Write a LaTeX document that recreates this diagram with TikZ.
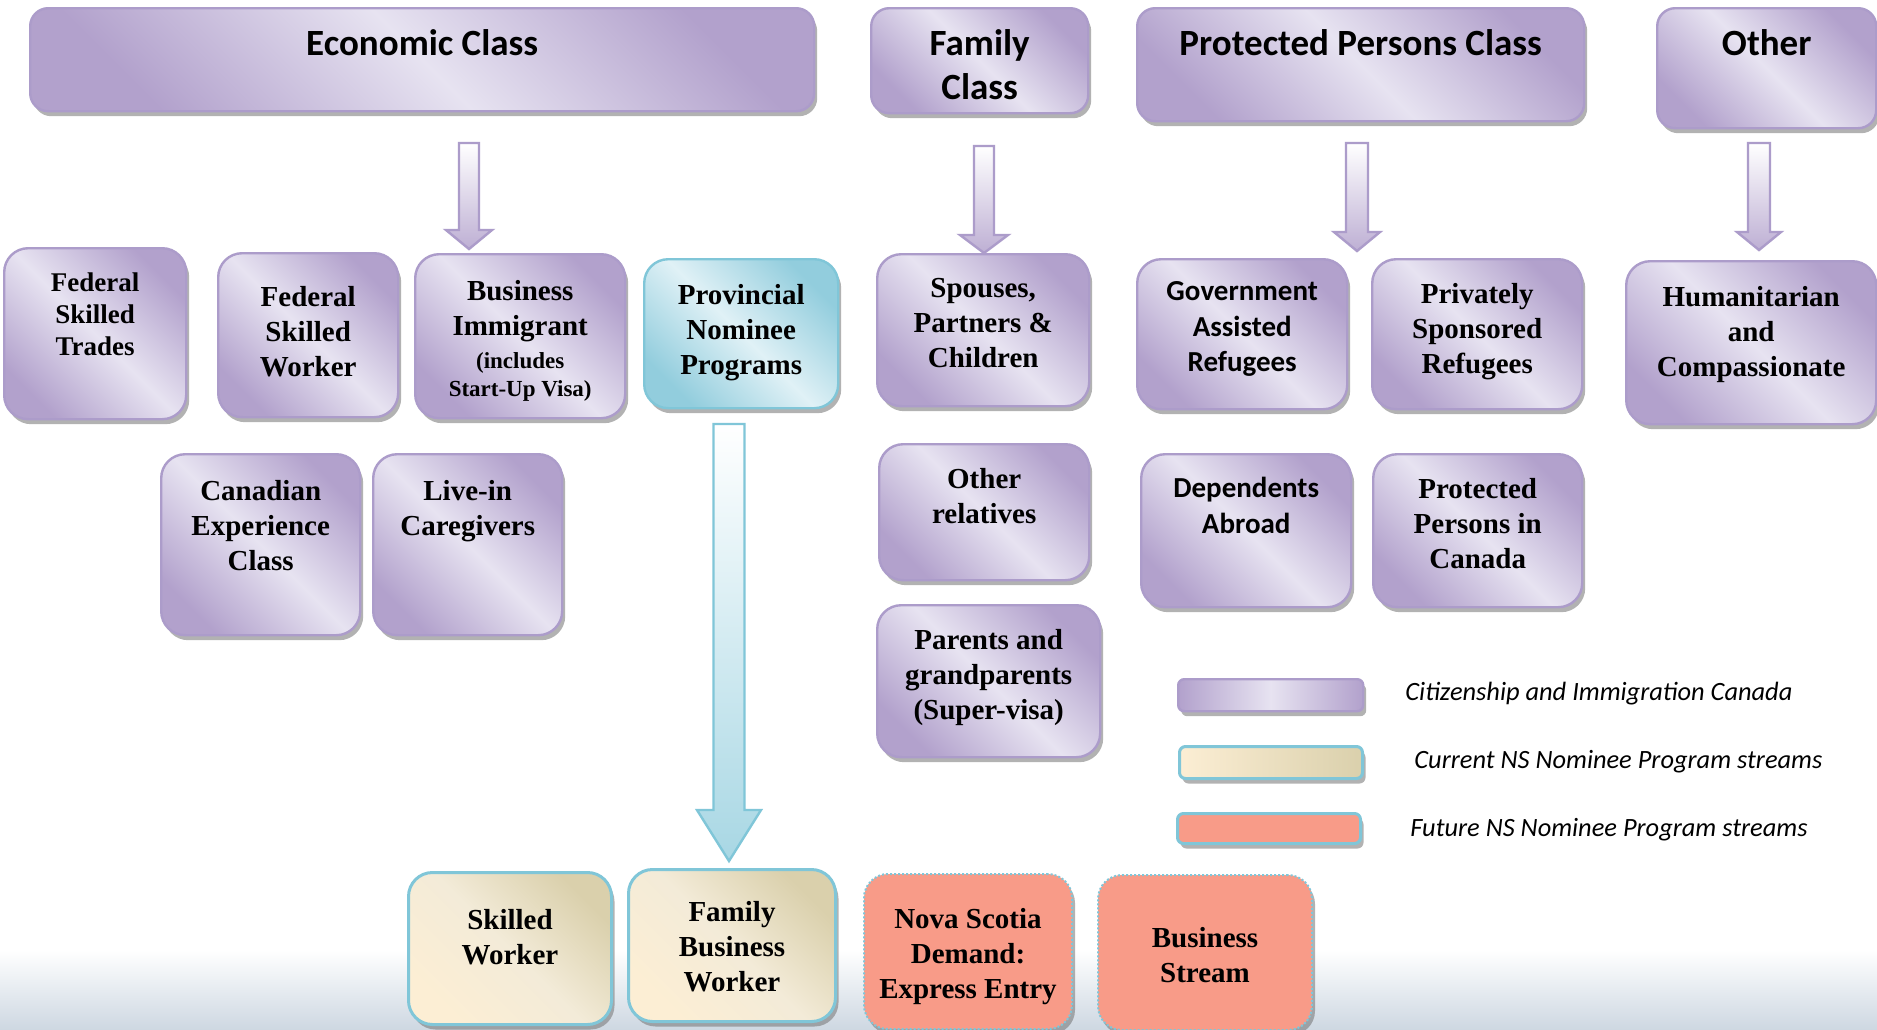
\documentclass[tikz,border=0pt]{standalone}
\usepackage{fontspec}
\setmainfont{Liberation Serif}
\newfontfamily\calibri{Carlito}
\usetikzlibrary{calc,shadows}

\definecolor{purpdark}{RGB}{178,161,204}
\definecolor{purplight}{RGB}{231,227,241}
\definecolor{purpline}{RGB}{172,156,202}
\definecolor{tealdark}{RGB}{146,205,221}
\definecolor{teallight}{RGB}{224,241,246}
\definecolor{tealline}{RGB}{128,198,216}
\definecolor{creamlight}{RGB}{252,238,212}
\definecolor{creammid}{RGB}{243,235,216}
\definecolor{creamdark}{RGB}{218,208,172}
\definecolor{salmon}{RGB}{248,155,136}
\definecolor{bgblue}{RGB}{206,216,226}

\newcommand{\blockarrow}[6][]{%
	\draw[#1] let \p1 = (#2), \p2 = (#3) in (\x1-#4,\y1)--(\x1+#4,\y1)--(\x1+#4,\y2+#6)--(\x1+#5,\y2+#6)--(\x1,\y2)--(\x1-#5,\y2+#6)--(\x1-#4,\y2+#6)--cycle;}

\begin{document}
\begin{tikzpicture}[x=0.5pt, y=-0.5pt, inner sep=0pt,
	shad/.style={drop shadow={shadow xshift=1.5pt, shadow yshift=-2.5pt, fill=black!55, opacity=.55}},
	cic/.style={shad, draw=purpline, line width=1.2pt, rounded corners=12pt, top color=purpdark, bottom color=purpdark, middle color=purplight, shading angle=-45, anchor=north west},
	cls/.style={cic, rounded corners=9pt},
	pnp/.style={cic, draw=tealline, top color=tealdark, bottom color=tealdark, middle color=teallight, shading angle=-45},
	cur/.style={shad, draw=tealline, line width=1.5pt, rounded corners=12pt, top color=creamdark, bottom color=creamlight, middle color=creammid, shading angle=-45, anchor=north west},
	fut/.style={shad, draw=tealline, line width=1pt, dash pattern=on 1pt off 1pt, rounded corners=12pt, fill=salmon, anchor=north west},
	parr/.style={draw=purpline, line width=1.2pt, top color=white, bottom color=purpdark!85},
	tarr/.style={draw=tealline, line width=1.2pt, top color=white, bottom color=tealdark!80},
	head/.style={font=\calibri\bfseries\fontsize{18.5}{22.2}\selectfont, align=center, anchor=north},
	tnr/.style={font=\bfseries\fontsize{14.5}{17.4}\selectfont, align=center, anchor=north},
	cal/.style={font=\calibri\bfseries\fontsize{14.5}{17.8}\selectfont, align=center, anchor=north},
	key/.style={font=\calibri\itshape\fontsize{13.2}{15}\selectfont, anchor=west}]
	\useasboundingbox (0,0) rectangle (1877,1029);
	\fill[white] (0,0) rectangle (1877,1029);
	\shade[top color=white, bottom color=bgblue] (0,950) rectangle (1877,1029);

	% classes
	\node[cls, minimum width=392pt, minimum height=51.5pt] (econ) at (29,7) {};
	\node[head] (econ-t) at ([yshift=-11pt]econ.north) {Economic Class};
	\node[cls, minimum width=108.5pt, minimum height=52.5pt] (fam) at (870,7) {};
	\node[head] (fam-t) at ([yshift=-11pt]fam.north) {Family\\Class};
	\node[cls, minimum width=223.5pt, minimum height=56.5pt] (prot) at (1136,7) {};
	\node[head] (prot-t) at ([yshift=-11pt]prot.north) {Protected Persons Class};
	\node[cls, minimum width=109.5pt, minimum height=60pt] (oth) at (1656,7) {};
	\node[head] (oth-t) at ([yshift=-11pt]oth.north) {Other};

	% economic
	\node[cic, minimum width=91pt, minimum height=85.5pt] (fst) at (3,247) {};
	\node[tnr, font=\bfseries\fontsize{13.5}{16}\selectfont] (fst-t) at ([yshift=-12.5pt]fst.north) {Federal\\Skilled\\Trades};
	\node[cic, minimum width=90pt, minimum height=82pt] (fsw) at (217,252) {};
	\node[tnr] (fsw-t) at ([yshift=-17pt]fsw.north) {Federal\\Skilled\\Worker};
	\node[cic, minimum width=105pt, minimum height=82pt] (bi) at (414,253) {};
	\node[tnr] (bi-t) at ([yshift=-13.5pt]bi.north) {Business\\Immigrant\\[-1pt]{\fontsize{11.5}{13}\selectfont(includes}\\[-3pt]{\fontsize{11.5}{13}\selectfont Start-Up Visa)}};
	\node[pnp, minimum width=97pt, minimum height=74.5pt] (pnp) at (643,258) {};
	\node[tnr] (pnp-t) at ([yshift=-13pt]pnp.north) {Provincial\\Nominee\\Programs};
	\node[cic, minimum width=99.5pt, minimum height=90.5pt] (cec) at (160,453) {};
	\node[tnr] (cec-t) at ([yshift=-13.5pt]cec.north) {Canadian\\Experience\\Class};
	\node[cic, minimum width=94.5pt, minimum height=90.5pt] (lic) at (372,453) {};
	\node[tnr] (lic-t) at ([yshift=-13.5pt]lic.north) {Live-in\\Caregivers};

	% family
	\node[cic, minimum width=106pt, minimum height=76pt] (spc) at (876,253) {};
	\node[tnr] (spc-t) at ([yshift=-12.5pt]spc.north) {Spouses,\\Partners \&\\Children};
	\node[cic, minimum width=105pt, minimum height=68pt] (orl) at (878,443) {};
	\node[tnr] (orl-t) at ([yshift=-12.5pt]orl.north) {Other\\relatives};
	\node[cic, minimum width=111.5pt, minimum height=76pt] (pgp) at (876,604) {};
	\node[tnr] (pgp-t) at ([yshift=-12.5pt]pgp.north) {Parents and\\grandparents\\(Super-visa)};

	% protected persons
	\node[cic, minimum width=105pt, minimum height=75pt] (gar) at (1136,258) {};
	\node[cal] (gar-t) at ([yshift=-11.5pt]gar.north) {Government\\Assisted\\Refugees};
	\node[cic, minimum width=105pt, minimum height=75pt] (psr) at (1371,258) {};
	\node[tnr] (psr-t) at ([yshift=-12.5pt]psr.north) {Privately\\Sponsored\\Refugees};
	\node[cic, minimum width=105pt, minimum height=76.5pt] (da) at (1140,453) {};
	\node[cal] (da-t) at ([yshift=-12pt]da.north) {Dependents\\Abroad};
	\node[cic, minimum width=104.5pt, minimum height=76.5pt] (pic) at (1372,453) {};
	\node[tnr] (pic-t) at ([yshift=-12.5pt]pic.north) {Protected\\Persons in\\Canada};

	% other
	\node[cic, minimum width=125pt, minimum height=81.5pt] (hc) at (1625,260) {};
	\node[tnr] (hc-t) at ([yshift=-13pt]hc.north) {Humanitarian\\and\\Compassionate};

	% NS nominee streams
	\node[cur, minimum width=101.5pt, minimum height=76pt] (sw) at (407,871) {};
	\node[tnr] (sw-t) at ([yshift=-19pt]sw.north) {Skilled\\Worker};
	\node[cur, minimum width=103.5pt, minimum height=76pt] (fbw) at (627,868) {};
	\node[tnr] (fbw-t) at ([yshift=-16.5pt]fbw.north) {Family\\Business\\Worker};
	\node[fut, minimum width=104pt, minimum height=77.5pt] (nsd) at (863,873) {};
	\node[tnr] (nsd-t) at ([yshift=-17.5pt]nsd.north) {Nova Scotia\\Demand:\\Express Entry};
	\node[fut, minimum width=107pt, minimum height=77.5pt] (bs) at (1097,874) {};
	\node[tnr] (bs-t) at ([yshift=-26.5pt]bs.north) {Business\\Stream};

	% arrows
	\coordinate (econ-o) at (469,143); \coordinate (bi-i) at (469,249);
	\coordinate (fam-o) at (984,146); \coordinate (spc-i) at (984,253);
	\coordinate (prot-o) at (1357,143); \coordinate (gar-i) at (1357,251);
	\coordinate (oth-o) at (1759,143); \coordinate (hc-i) at (1759,250);
	\coordinate (pnp-o) at (729,424); \coordinate (fbw-i) at (729,861);
	\blockarrow[parr]{econ-o}{bi-i}{5pt}{11.5pt}{9.5pt}
	\blockarrow[parr]{fam-o}{spc-i}{5pt}{12pt}{9pt}
	\blockarrow[parr]{prot-o}{gar-i}{5.5pt}{11.5pt}{9.5pt}
	\blockarrow[parr]{oth-o}{hc-i}{5.5pt}{11pt}{9pt}
	\blockarrow[tarr]{pnp-o}{fbw-i}{7.75pt}{16pt}{25.5pt}

	% legend
	\node[cic, rounded corners=3pt, left color=purpdark, right color=purpdark, middle color=purplight, minimum width=92.5pt, minimum height=16pt] (kcic) at (1177,678) {};
	\node[key] (kcic-t) at (1405,694) {Citizenship and Immigration Canada};
	\node[cur, rounded corners=3pt, left color=creamlight, right color=creamdark, minimum width=91.5pt, minimum height=16pt] (kcur) at (1178,745) {};
	\node[key] (kcur-t) at (1414,762) {Current NS Nominee Program streams};
	\node[shad, draw=tealline, line width=1.5pt, rounded corners=3pt, fill=salmon, anchor=north west, minimum width=91.5pt, minimum height=15pt] (kfut) at (1176,812) {};
	\node[key] (kfut-t) at (1410,830) {Future NS Nominee Program streams};
\end{tikzpicture}
\end{document}
